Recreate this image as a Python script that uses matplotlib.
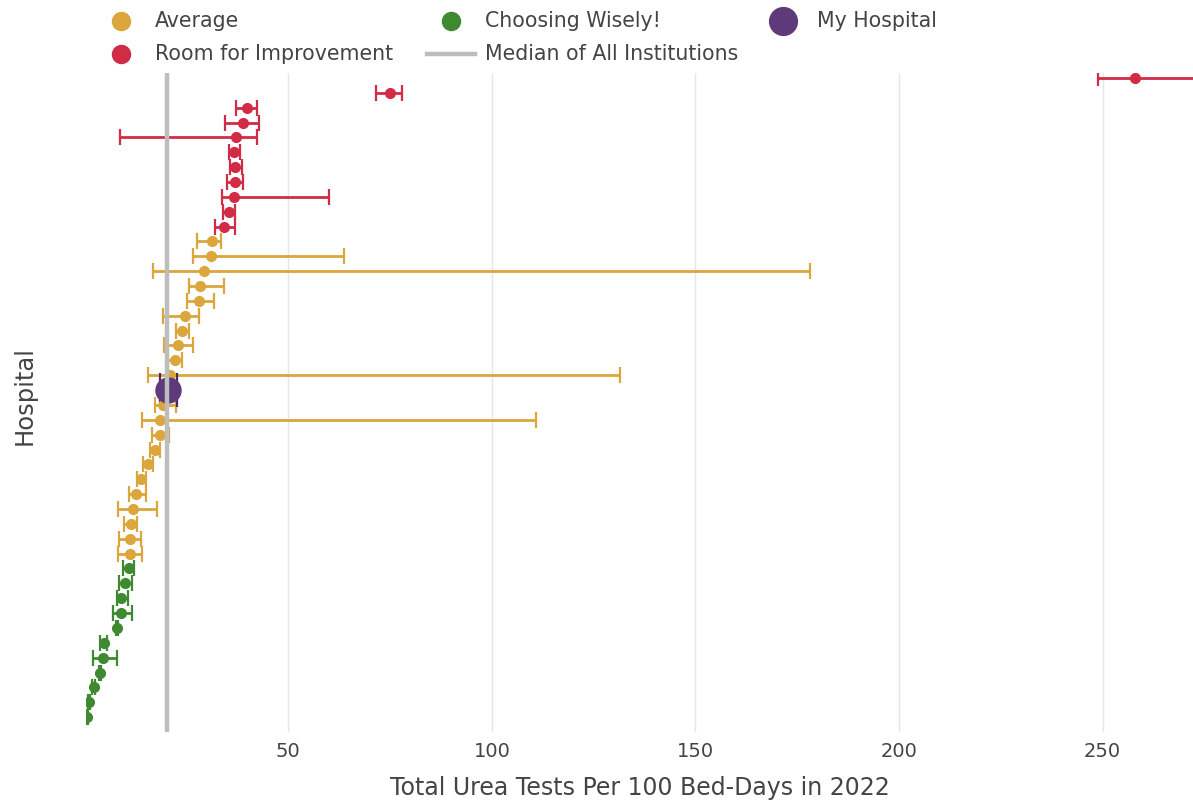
import matplotlib
matplotlib.use("Agg")
import matplotlib.pyplot as plt
from matplotlib.lines import Line2D
import numpy as np

# one row per hospital, top to bottom
values = [257.9, 75.0, 39.8, 38.8, 37.2, 36.7, 37.0, 37.0, 36.7, 35.4, 34.2,
          31.2, 30.9, 29.3, 28.3, 28.1, 24.6, 24.0, 22.8, 22.2, 20.9, 20.4,
          19.3, 18.5, 18.5, 17.2, 15.5, 13.9, 12.5, 11.9, 11.3, 11.1, 11.1,
          10.8, 9.9, 8.9, 8.9, 8.0, 4.7, 4.4, 3.7, 2.2, 1.1, 0.6]
lower = [248.8, 71.6, 37.2, 34.4, 8.7, 35.4, 35.7, 34.9, 33.7, 33.9, 31.9,
         27.5, 26.5, 16.7, 25.5, 25.2, 19.3, 22.4, 19.5, 20.4, 15.5, 18.5,
         17.3, 14.0, 16.5, 16.0, 14.4, 12.9, 10.8, 8.3, 9.7, 8.5, 8.1,
         9.5, 8.5, 8.0, 6.9, 7.7, 3.8, 2.1, 3.5, 1.9, 0.8, 0.3]
upper = [275.0, 78.0, 42.4, 42.9, 42.2, 38.1, 38.7, 38.9, 59.9, 36.8, 36.8,
         33.4, 63.8, 178.2, 34.2, 31.8, 28.1, 25.7, 26.7, 23.8, 131.4, 22.6,
         22.4, 110.8, 20.8, 18.5, 16.7, 15.0, 15.0, 17.7, 12.9, 13.8, 14.1,
         12.1, 11.5, 10.6, 11.5, 8.3, 5.6, 7.9, 3.9, 2.5, 1.4, 0.9]
category = (["Room for Improvement"] * 11 + ["Average"] * 10 + ["My Hospital"]
            + ["Average"] * 11 + ["Choosing Wisely!"] * 11)
median_all = 20.3

colors = {"Average": "#dba63b", "Room for Improvement": "#d22b46",
          "Choosing Wisely!": "#3f8a31", "My Hospital": "#5e3a7a"}
text_col = "#444444"

fig = plt.figure(figsize=(11.93, 8), dpi=100)
ax = fig.add_axes([86 / 1193, 1 - 732 / 800, 1 - 86 / 1193, (732 - 73) / 800])

values = np.array(values)
lower = np.array(lower)
upper = np.array(upper)
rows = np.arange(len(values))

for cat in ["Room for Improvement", "Average", "Choosing Wisely!"]:
    idx = np.array([c == cat for c in category])
    ax.errorbar(values[idx], rows[idx],
                xerr=[values[idx] - lower[idx], upper[idx] - values[idx]],
                fmt="o", color=colors[cat], ms=7, elinewidth=2,
                capsize=6, capthick=1.6, zorder=3)

# my hospital
idx = np.array([c == "My Hospital" for c in category])
ax.errorbar(values[idx], rows[idx],
            xerr=[values[idx] - lower[idx], upper[idx] - values[idx]],
            fmt="none", ecolor="#4a2a66", elinewidth=2, capsize=12,
            capthick=1.6, zorder=3)
ax.plot(values[idx], rows[idx], "o", color=colors["My Hospital"], ms=18,
        zorder=4)

ax.axvline(median_all, color="#bdbdbd", lw=3.2, zorder=5)

ax.set_xlim(0.32, 272.2)
ax.set_ylim(44.0, -0.33)
ax.set_xticks([50, 100, 150, 200, 250])
ax.set_yticks([])
ax.grid(axis="x", color="#e6e6e6", lw=1)
ax.set_axisbelow(True)
for s in ax.spines.values():
    s.set_visible(False)
ax.tick_params(axis="x", length=0, pad=7, labelsize=14, labelcolor=text_col)
ax.set_xlabel("Total Urea Tests Per 100 Bed-Days in 2022", fontsize=17,
              color=text_col, labelpad=11)
fig.text(25 / 1193, 1 - 396 / 800, "Hospital", rotation=90, fontsize=17.5,
         color=text_col, ha="center", va="center")

# legend laid out like the reference, two rows of three
legend_items = [("Average", 121, 21, "o", 13),
                ("Choosing Wisely!", 451, 21, "o", 13),
                ("My Hospital", 783, 21, "o", 20),
                ("Room for Improvement", 121, 54, "o", 13),
                ("Median of All Institutions", 451, 54, "-", 0)]
for name, px, py, mk, size in legend_items:
    xf, yf = px / 1193, 1 - py / 800
    if mk == "-":
        fig.add_artist(Line2D([(px - 24) / 1193, (px + 24) / 1193], [yf, yf],
                              transform=fig.transFigure, color="#bdbdbd",
                              lw=3.2))
    else:
        fig.add_artist(Line2D([xf], [yf], transform=fig.transFigure,
                              marker="o", ms=size, ls="none",
                              color=colors[name]))
    fig.text((px + 34) / 1193, yf, name, fontsize=14.8, color=text_col,
             ha="left", va="center")

fig.savefig("out.png", dpi=100, facecolor="white")
